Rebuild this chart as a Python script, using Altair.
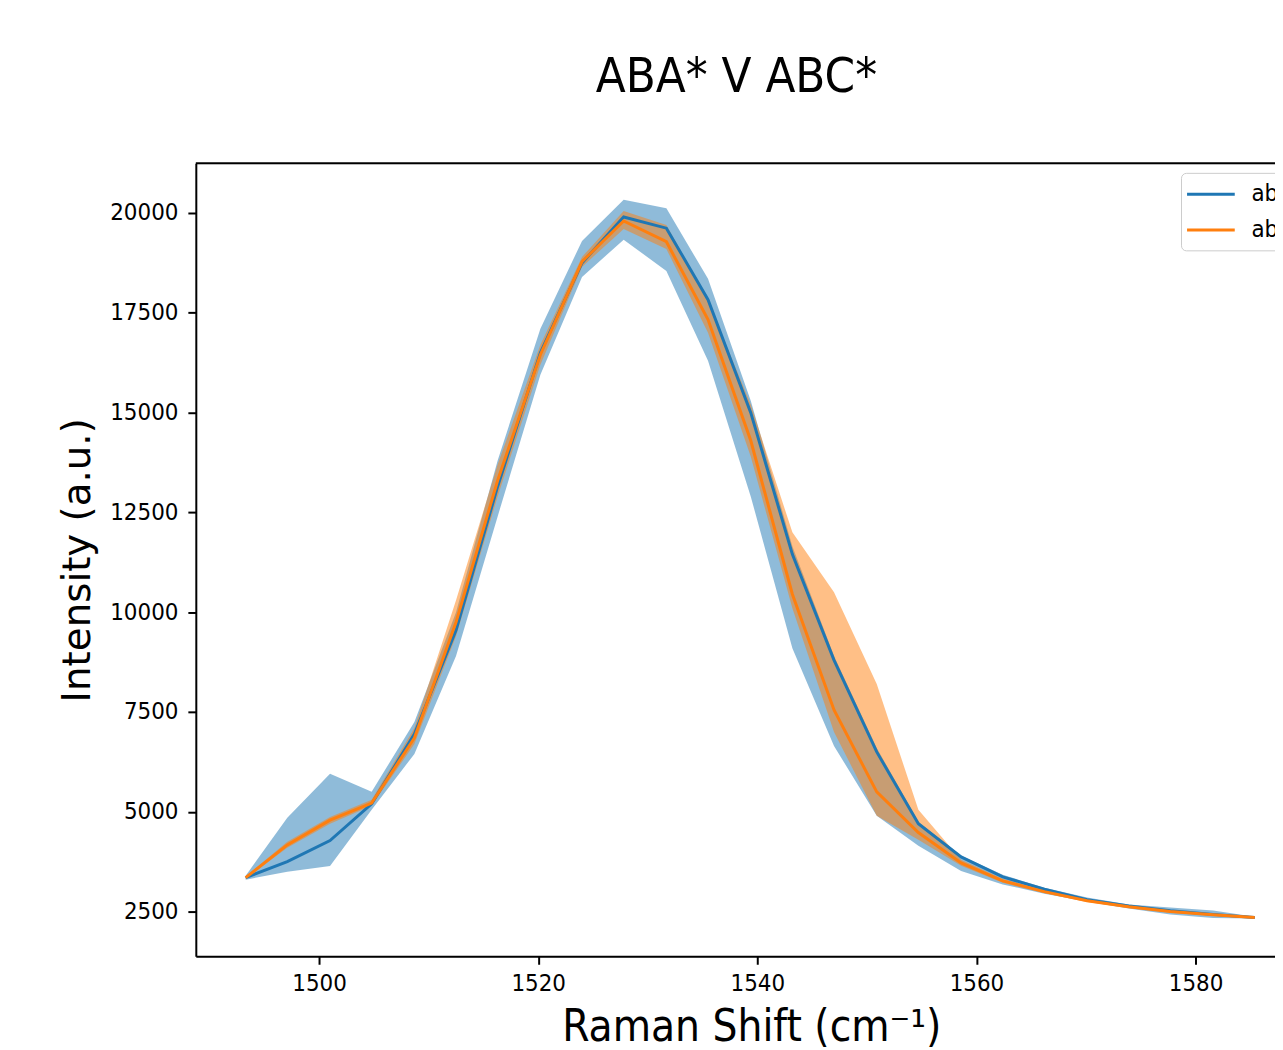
import altair as alt
import pandas as pd

# Raman shift positions (cm^-1)
shift = [1493.3, 1497.1, 1501.0, 1504.8, 1508.7, 1512.5, 1516.3, 1520.2, 1524.0, 1527.8,
         1531.7, 1535.5, 1539.4, 1543.2, 1547.0, 1550.9, 1554.7, 1558.6, 1562.4, 1566.2,
         1570.1, 1573.9, 1577.7, 1581.6, 1585.4]

abc_mean = [3350, 3750, 4280, 5200, 6950, 9550, 13150, 16500, 18750, 19900,
            19620, 17830, 15000, 11450, 8800, 6500, 4700, 3870, 3370, 3060,
            2800, 2640, 2520, 2430, 2350]
abc_upper = [3400, 4850, 5950, 5500, 7250, 10000, 13800, 17100, 19300, 20330,
             20120, 18350, 15300, 11650, 8900, 6600, 4750, 3900, 3420, 3100,
             2850, 2680, 2600, 2530, 2370]
abc_lower = [3300, 3500, 3640, 5050, 6450, 8900, 12400, 15950, 18400, 19330,
             18550, 16300, 12900, 9100, 6650, 4900, 4150, 3520, 3180, 2950,
             2750, 2580, 2430, 2340, 2330]

aba_mean = [3350, 4170, 4790, 5220, 6850, 9750, 13300, 16450, 18780, 19800,
            19280, 17330, 14300, 10450, 7550, 5500, 4480, 3720, 3270, 3000,
            2770, 2620, 2500, 2420, 2350]
aba_upper = [3380, 4250, 4870, 5300, 7100, 10300, 13700, 16700, 18900, 20050,
             19700, 17800, 15200, 12000, 10500, 8200, 5050, 3800, 3320, 3040,
             2800, 2650, 2530, 2450, 2370]
aba_lower = [3320, 4100, 4700, 5150, 6700, 9400, 12900, 16200, 18650, 19600,
             19100, 17000, 13900, 10100, 7000, 4900, 4300, 3650, 3220, 2960,
             2740, 2590, 2470, 2390, 2330]

series_names = ["abc", "aba"]
series_colors = ["#1f77b4", "#ff7f0e"]
x_ticks = [1500, 1520, 1540, 1560, 1580]
y_ticks = [2500, 5000, 7500, 10000, 12500, 15000, 17500, 20000]

rows = []
for name, m, lo, hi in [("abc", abc_mean, abc_lower, abc_upper), ("aba", aba_mean, aba_lower, aba_upper)]:
    for s, a, b, c in zip(shift, m, lo, hi):
        rows.append({"shift": s, "mean": a, "lo": b, "hi": c, "series": name})
df = pd.DataFrame(rows)

COND = "DejaVu Sans Condensed, DejaVu Sans"
W, H = 1086, 798

x_enc = alt.X("shift:Q",
              scale=alt.Scale(domain=[1488.75, 1587.25], nice=False, zero=False),
              axis=alt.Axis(values=x_ticks, format="d", title="Raman Shift (cm\u207b\u00b9)",
                            grid=False, tickSize=8, tickWidth=2, tickColor="black",
                            domainColor="black", domainWidth=2, labelPadding=7,
                            labelFont=COND, labelFontSize=24, labelColor="black",
                            titleFont=COND, titleFontSize=44, titleFontWeight="normal",
                            titleColor="black", titleX=559, titleY=85,
                            titleBaseline="alphabetic", titleAlign="center"))
y_scale = alt.Scale(domain=[1380, 21245], nice=False, zero=False)
y_axis = alt.Axis(values=y_ticks, format="d", title="Intensity (a.u.)", grid=False,
                  tickSize=8, tickWidth=2, tickColor="black", domainColor="black",
                  domainWidth=2, labelPadding=10, labelFont=COND, labelFontSize=24,
                  labelColor="black", titleFont="DejaVu Sans", titleFontSize=39,
                  titleFontWeight="normal", titleColor="black", titleX=-119, titleY=399,
                  titleBaseline="middle", titleAlign="center", titleAngle=270)

color_scale = alt.Scale(domain=series_names, range=series_colors)

base = alt.Chart(df)

bands = base.mark_area(opacity=0.5).encode(
    x=x_enc,
    y=alt.Y("lo:Q", scale=y_scale, axis=y_axis),
    y2="hi:Q",
    color=alt.Color("series:N", scale=color_scale, sort=series_names,
                    legend=alt.Legend(title=None, orient="none", legendX=991.4, legendY=9.6,
                                      symbolType="M-2,0H2", symbolSize=576, symbolStrokeWidth=3,
                                      symbolOffset=8.6, symbolOpacity=1,
                                      labelFont=COND, labelFontSize=24, labelColor="black",
                                      labelOffset=27.3, padding=8, rowPadding=10,
                                      fillColor="white", strokeColor="#cccccc", cornerRadius=5)),
)

lines = base.mark_line(strokeWidth=3).encode(
    x=x_enc,
    y=alt.Y("mean:Q", scale=y_scale, axis=y_axis),
    color=alt.Color("series:N", scale=color_scale, sort=series_names),
)

top_spine = alt.Chart(df.head(1)).mark_rule(color="black", strokeWidth=2).encode(
    x=alt.value(0), x2=alt.value(W), y=alt.value(0))

chart = alt.layer(bands, lines, top_spine).properties(
    width=W, height=H,
    title=alt.TitleParams("ABA* V ABC*", font=COND, fontSize=49, fontWeight="normal",
                          color="black", anchor="middle", dx=1, offset=22,
                          baseline="alphabetic"),
    autosize=alt.AutoSizeParams(type="none"),
    padding={"left": 189, "top": 153, "right": 0, "bottom": 91},
).configure_view(stroke=None).configure(background="white")

chart.save("out.html", embed_options={"renderer": "svg", "actions": False})
